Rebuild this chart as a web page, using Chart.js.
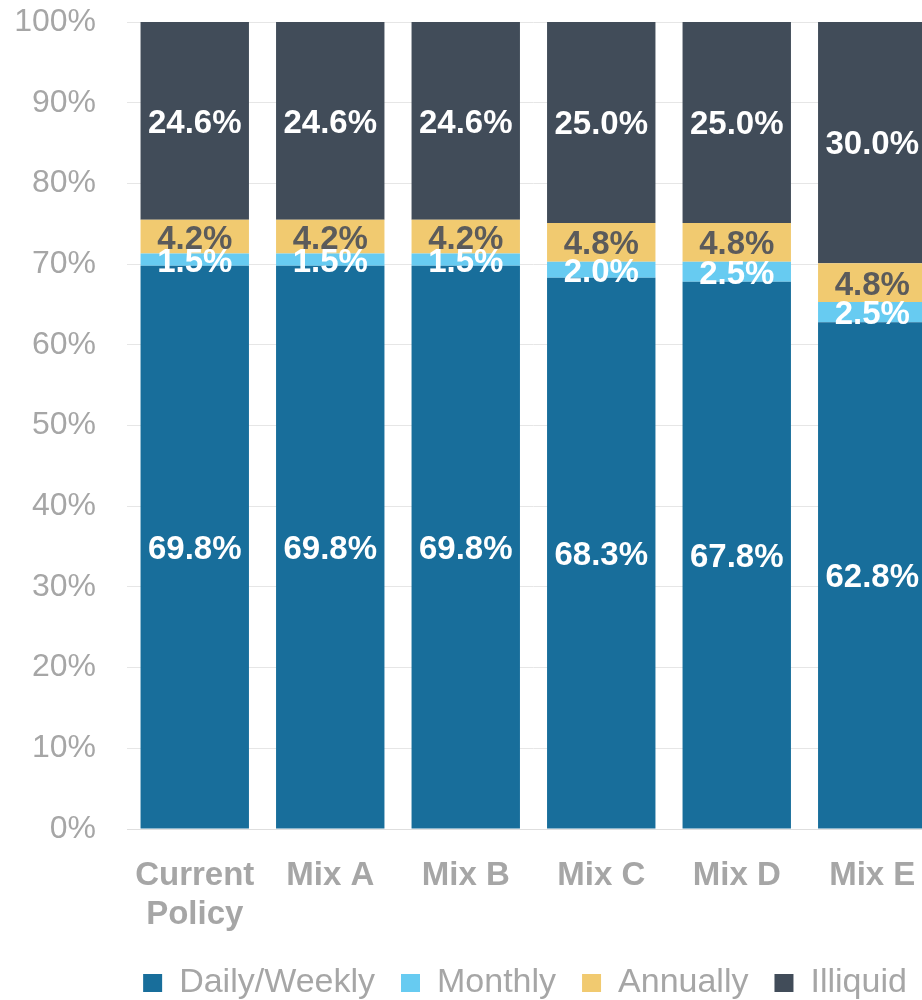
<!DOCTYPE html>
<html>
<head>
<meta charset="utf-8">
<script src="https://cdn.jsdelivr.net/npm/chart.js@4.4.1/dist/chart.umd.min.js"></script>
<style>
  html, body { margin: 0; padding: 0; background: #ffffff; overflow: hidden; }
  #wrap { position: relative; width: 945px; height: 1010px; }
</style>
</head>
<body>
<div id="wrap"><canvas id="c" width="945" height="1010"></canvas></div>
<script>
// Liquidity profile of each portfolio mix (% of total assets)
const categories = [['Current', 'Policy'], 'Mix A', 'Mix B', 'Mix C', 'Mix D', 'Mix E'];
const dailyWeekly = [69.8, 69.8, 69.8, 68.3, 67.8, 62.8];
const monthly     = [1.5, 1.5, 1.5, 2.0, 2.5, 2.5];
const annually    = [4.2, 4.2, 4.2, 4.8, 4.8, 4.8];
const illiquid    = [24.6, 24.6, 24.6, 25.0, 25.0, 30.0];
const seriesNames = ['Daily/Weekly', 'Monthly', 'Annually', 'Illiquid'];
const yTickValues = [0, 10, 20, 30, 40, 50, 60, 70, 80, 90, 100];

const FONT = '"Liberation Sans", Arial, Helvetica, sans-serif';
const GREY_TEXT = '#a6a6a6';

// Writes each segment's value in the middle of its bar piece
const segmentLabels = {
  id: 'segmentLabels',
  afterDatasetsDraw(chart) {
    const ctx = chart.ctx;
    chart.data.datasets.forEach((ds, i) => {
      const meta = chart.getDatasetMeta(i);
      if (meta.hidden) return;
      meta.data.forEach((bar, j) => {
        const v = ds.data[j];
        const yMid = (bar.y + bar.base) / 2;
        ctx.save();
        ctx.font = 'bold 33px ' + FONT;
        ctx.fillStyle = ds.labelColor;
        ctx.textAlign = 'center';
        ctx.textBaseline = 'middle';
        ctx.fillText(v.toFixed(1) + '%', bar.x, yMid + 3);
        ctx.restore();
      });
    });
  }
};

// Moves the legend row so it sits centred under the plotted bars
const legendOffset = {
  id: 'legendOffset',
  afterLayout(chart) {
    if (chart.legend) {
      chart.legend.left += 55;
      chart.legend.right += 55;
    }
  }
};

const palette = ['#186e9b', '#67cbf1', '#f1ca70', '#414c59'];
const labelColors = ['#ffffff', '#ffffff', '#5b5b5b', '#ffffff'];
const seriesData = [dailyWeekly, monthly, annually, illiquid];

new Chart(document.getElementById('c'), {
  type: 'bar',
  data: {
    labels: categories,
    datasets: seriesNames.map((name, i) => ({
      label: name,
      data: seriesData[i],
      backgroundColor: palette[i],
      borderWidth: 0,
      labelColor: labelColors[i],
      barPercentage: 0.8,
      categoryPercentage: 1.0
    }))
  },
  options: {
    responsive: false,
    animation: false,
    devicePixelRatio: 1,
    layout: { padding: { top: 22, left: 0, right: 5, bottom: 0 } },
    plugins: {
      tooltip: { enabled: false },
      legend: {
        position: 'bottom',
        labels: {
          boxWidth: 19,
          boxHeight: 18,
          padding: 26,
          color: GREY_TEXT,
          font: { family: FONT, size: 34 }
        }
      }
    },
    scales: {
      x: {
        stacked: true,
        grid: { display: false, drawTicks: false },
        border: { display: true, color: '#dedede', width: 1 },
        ticks: {
          color: GREY_TEXT,
          padding: 27,
          maxRotation: 0,
          autoSkip: false,
          font: { family: FONT, size: 33, weight: 'bold', lineHeight: 1.2 }
        },
        afterFit(scale) { scale.height = 111; }
      },
      y: {
        stacked: true,
        min: 0,
        max: 100,
        afterBuildTicks(scale) { scale.ticks = yTickValues.map(v => ({ value: v })); },
        grid: { color: '#e6e6e6', lineWidth: 1, drawTicks: false },
        border: { display: false },
        ticks: {
          color: GREY_TEXT,
          padding: 31,
          font: { family: FONT, size: 32 },
          callback: v => v + '%'
        },
        afterFit(scale) {
          scale.width = 127;
          scale.paddingTop = 0;
          scale.paddingBottom = 0;
        }
      }
    }
  },
  plugins: [segmentLabels, legendOffset]
});
</script>
</body>
</html>
